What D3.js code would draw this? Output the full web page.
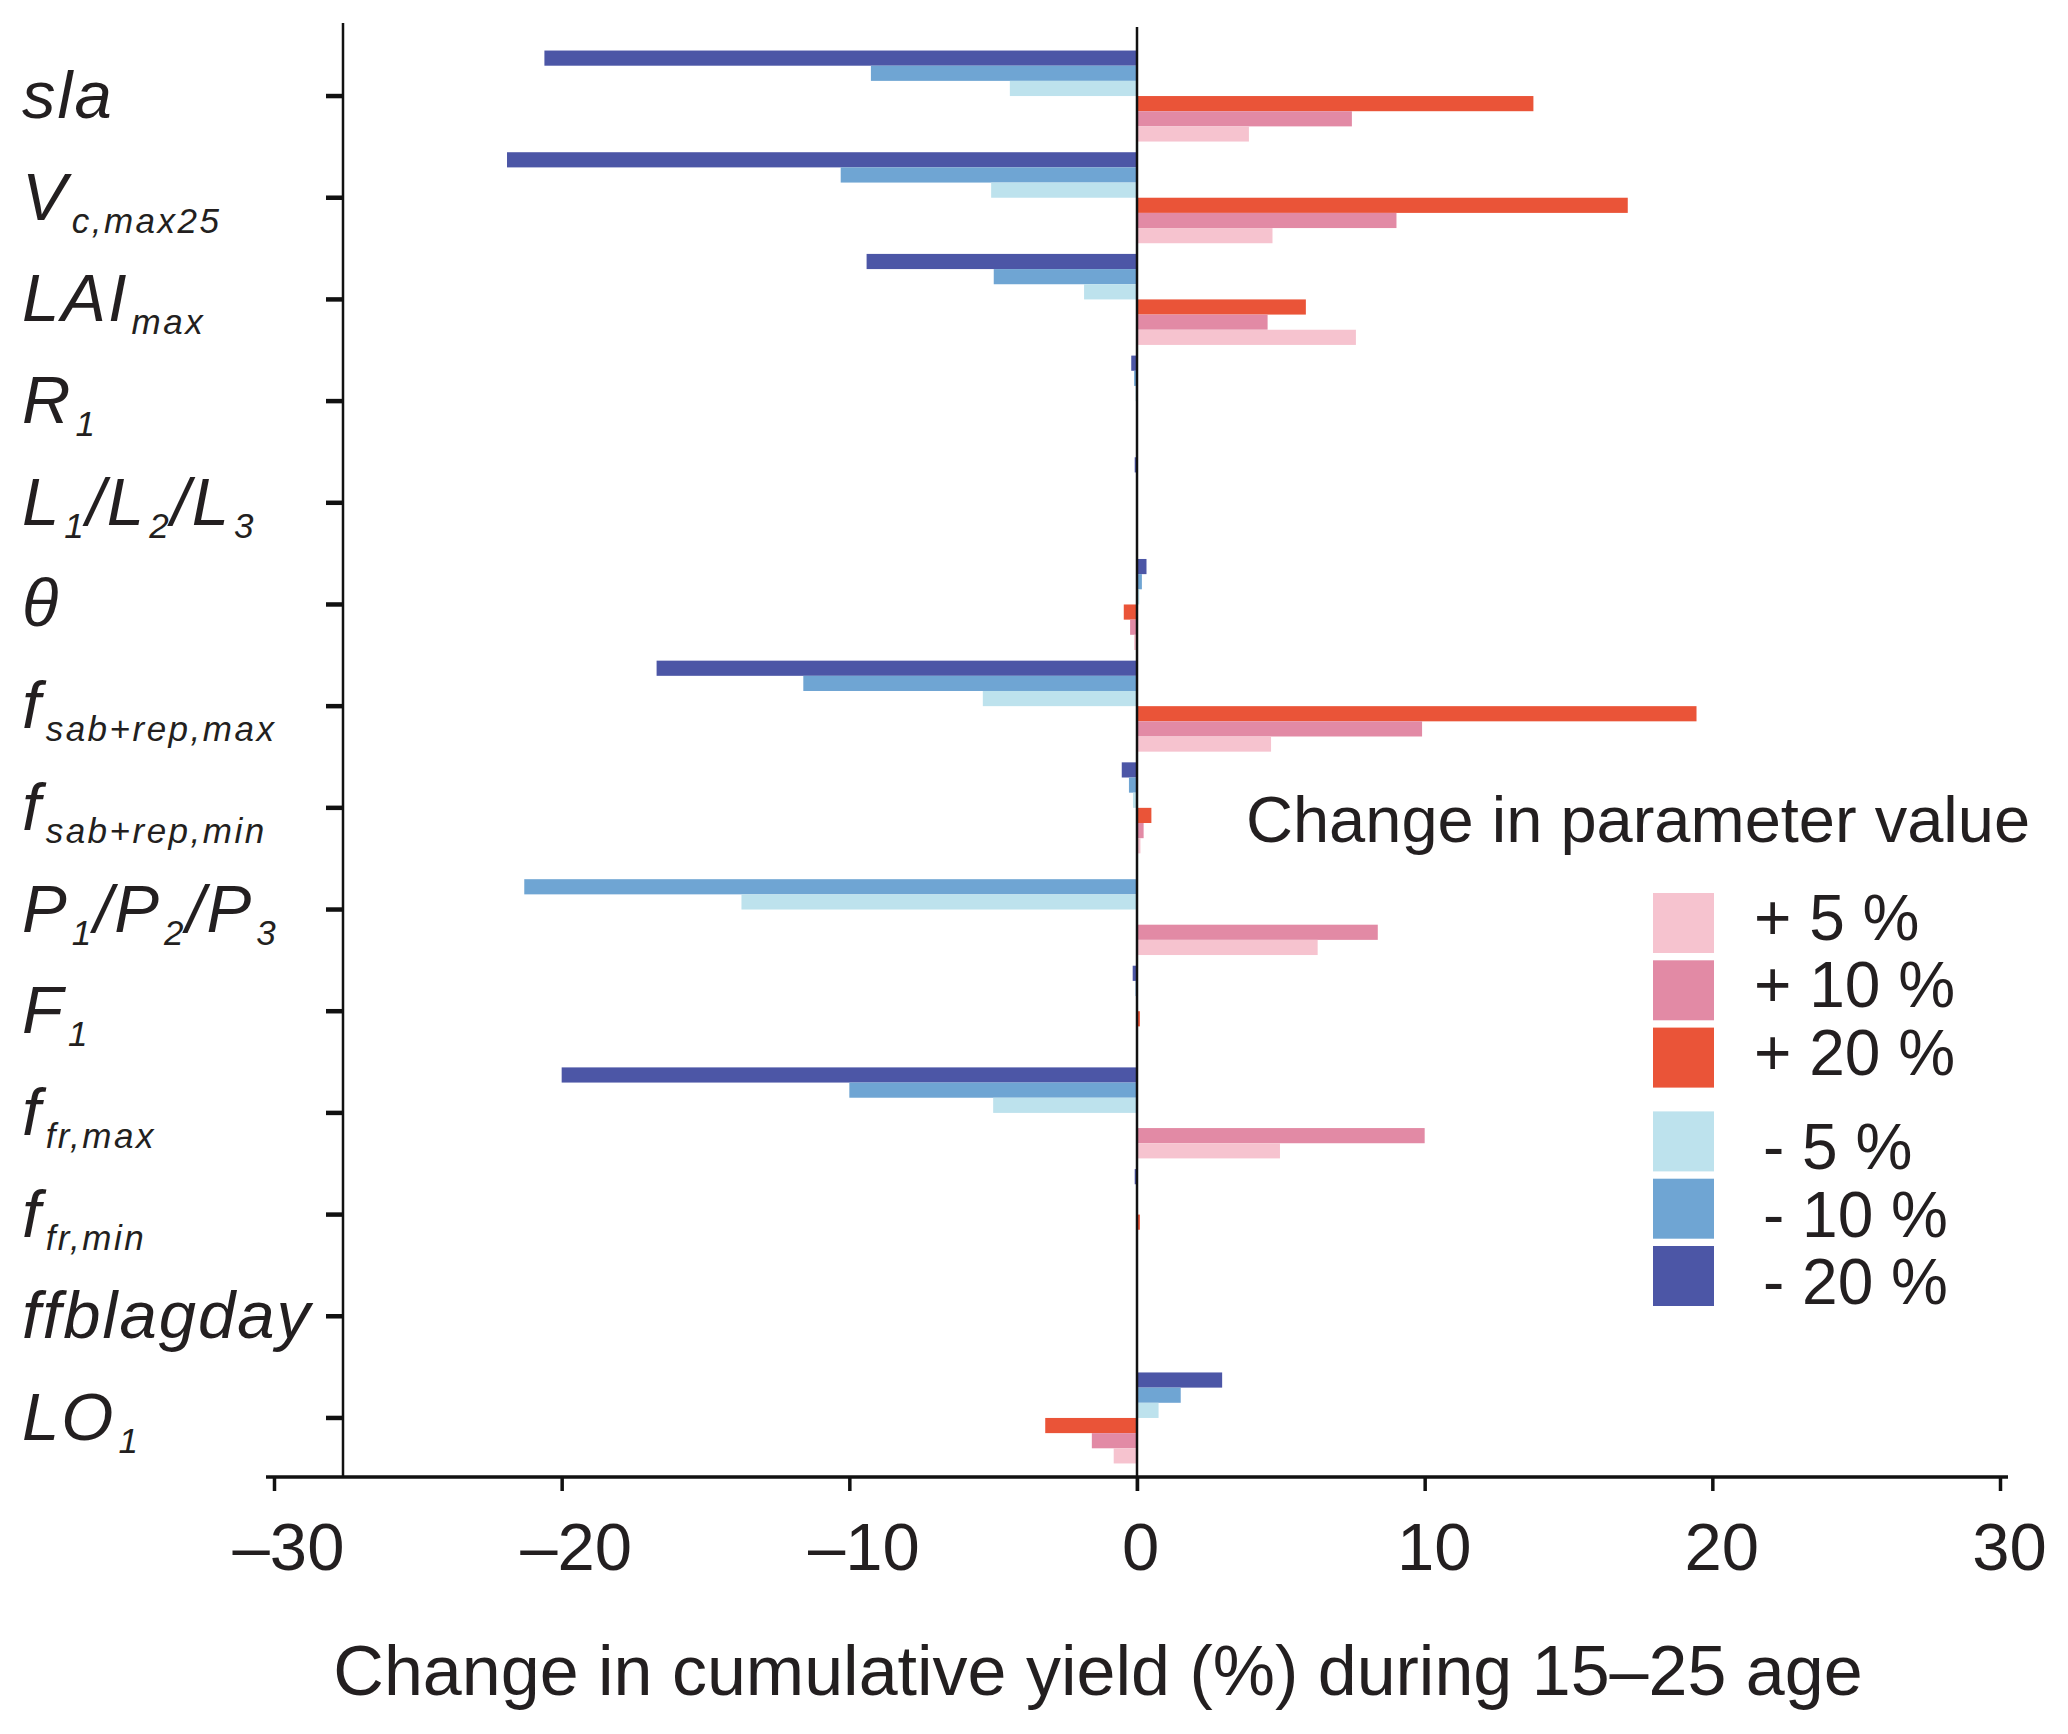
<!DOCTYPE html>
<html>
<head>
<meta charset="utf-8">
<script src="https://cdn.jsdelivr.net/npm/d3@7"></script>
<style>
    body { margin: 0; background: #fff; }
    text { font-family: "Liberation Sans", Arial, sans-serif; fill: #231f20; }
</style>
</head>
<body>
<div id="chart"></div>
<script>
// parameters, top to bottom
var categories = ['sla', 'Vc,max25', 'LAImax', 'R1', 'L1/L2/L3', 'theta',
    'fsab+rep,max', 'fsab+rep,min', 'P1/P2/P3', 'F1', 'ffr,max', 'ffr,min',
    'ffblagday', 'LO1'];

// label pieces: [text, isSubscript]
var categoryLabels = [
    [['sla', 0]],
    [['V', 0], ['c,max25', 1]],
    [['LAI', 0], ['max', 1]],
    [['R', 0], ['1', 1]],
    [['L', 0], ['1', 1], ['/L', 0], ['2', 1], ['/L', 0], ['3', 1]],
    [['\u03b8', 0]],
    [['f', 0], ['sab+rep,max', 1]],
    [['f', 0], ['sab+rep,min', 1]],
    [['P', 0], ['1', 1], ['/P', 0], ['2', 1], ['/P', 0], ['3', 1]],
    [['F', 0], ['1', 1]],
    [['f', 0], ['fr,max', 1]],
    [['f', 0], ['fr,min', 1]],
    [['ffblagday', 0]],
    [['LO', 0], ['1', 1]]
];

// change in cumulative yield (%) for each parameter change
var minus20 = [-20.6, -21.9, -9.4, -0.2, -0.08, 0.33, -16.7, -0.53, 0, -0.15, -20.0, -0.08, 0, 2.96];
var minus10 = [-9.25, -10.3, -4.98, -0.1, -0.03, 0.17, -11.6, -0.28, -21.3, -0.05, -10.0, -0.03, 0, 1.52];
var minus5 = [-4.42, -5.07, -1.84, -0.05, 0, 0.08, -5.36, -0.14, -13.75, 0, -5.0, 0, 0, 0.75];
var plus20 = [13.78, 17.06, 5.87, 0.03, 0, -0.46, 19.45, 0.5, 0, 0.1, 0, 0.1, 0, -3.19];
var plus10 = [7.47, 9.02, 4.54, 0.02, 0, -0.24, 9.91, 0.23, 8.37, 0.03, 10.0, 0.03, 0, -1.57];
var plus5 = [3.89, 4.71, 7.61, 0, 0, -0.1, 4.66, 0.12, 6.28, 0, 4.97, 0, 0, -0.81];

// order of the bars inside each group, top to bottom
var seriesKeys = ['m20', 'm10', 'm5', 'p20', 'p10', 'p5'];
var seriesValues = {m20: minus20, m10: minus10, m5: minus5, p20: plus20, p10: plus10, p5: plus5};

var legendKeys = ['p5', 'p10', 'p20', 'm5', 'm10', 'm20'];
var legendLabels = ['+ 5 %', '+ 10 %', '+ 20 %', '- 5 %', '- 10 %', '- 20 %'];

var xTicks = [-30, -20, -10, 0, 10, 20, 30];

(function () {
    'use strict';

    var width = 2068;
    var height = 1734;
    var axisY = 1477;
    var spineX = 343;

    var colors = {
        m20: '#4c56a6',
        m10: '#6fa5d3',
        m5: '#bde2ed',
        p20: '#ea5438',
        p10: '#e28aa5',
        p5: '#f6c3cf'
    };

    var svg = d3.select('#chart')
        .append('svg')
        .attr('width', width)
        .attr('height', height);

    var x = d3.scaleLinear()
        .domain([-30, 30])
        .range([274, 2000]);

    var y = d3.scaleBand()
        .domain(categories)
        .range([45.2, 1468.8])
        .paddingInner(0)
        .paddingOuter(0);

    var ySub = d3.scaleBand()
        .domain(seriesKeys)
        .range([0, y.bandwidth()])
        .paddingInner(0)
        .paddingOuter(0.352);

    // bars
    var groups = svg.append('g')
        .selectAll('g')
        .data(categories)
        .join('g')
        .attr('transform', function (c) { return translate(0, y(c)); });

    groups.selectAll('rect')
        .data(function (c, i) {
            return seriesKeys.map(function (k) {
                return {key: k, value: seriesValues[k][i]};
            });
        })
        .join('rect')
        .attr('x', function (d) { return x(Math.min(0, d.value)); })
        .attr('y', function (d) { return ySub(d.key); })
        .attr('width', function (d) { return Math.abs(x(d.value) - x(0)); })
        .attr('height', ySub.bandwidth())
        .attr('fill', function (d) { return colors[d.key]; });

    // zero line
    svg.append('line')
        .attr('x1', x(0))
        .attr('x2', x(0))
        .attr('y1', 27)
        .attr('y2', axisY + 14)
        .attr('stroke', '#111')
        .attr('stroke-width', 2.5);

    // x axis
    var xAxis = svg.append('g')
        .attr('transform', translate(0, axisY))
        .call(d3.axisBottom(x)
            .tickValues(xTicks)
            .tickSize(14)
            .tickSizeOuter(0)
            .tickFormat(function (d) { return d < 0 ? '\u2013' + (-d) : String(d); }));

    xAxis.select('.domain')
        .attr('d', 'M266,0H2008')
        .attr('stroke', '#111')
        .attr('stroke-width', 3.5);
    xAxis.selectAll('.tick line')
        .attr('stroke', '#111')
        .attr('stroke-width', 3.5);
    xAxis.selectAll('.tick text')
        .attr('y', 93)
        .attr('dy', 0)
        .attr('dx', function (d) { return d < 0 ? 14 : (d > 0 ? 9 : 3); })
        .style('font-size', '67px')
        .style('font-family', '"Liberation Sans", Arial, sans-serif')
        .attr('fill', '#231f20');

    svg.append('text')
        .attr('x', 1098)
        .attr('y', 1695)
        .attr('text-anchor', 'middle')
        .style('font-size', '70px')
        .text('Change in cumulative yield (%) during 15\u201325 age');

    // y axis
    var yAxis = svg.append('g')
        .attr('transform', translate(spineX, 0))
        .call(d3.axisLeft(y)
            .tickSize(17)
            .tickSizeOuter(0)
            .tickFormat(''));

    yAxis.select('.domain')
        .attr('d', 'M0,23V' + axisY)
        .attr('stroke', '#111')
        .attr('stroke-width', 2.5);
    yAxis.selectAll('.tick line')
        .attr('stroke', '#111')
        .attr('stroke-width', 4.5);

    var labels = svg.append('g')
        .selectAll('text')
        .data(categories)
        .join('text')
        .attr('x', 22)
        .attr('y', function (c) { return y(c) + y.bandwidth() / 2 + 22; })
        .style('font-size', '67px')
        .style('font-style', 'italic')
        .style('letter-spacing', '2px');

    labels.each(function (c, i) {
        var node = d3.select(this);
        var inSub = false;
        categoryLabels[i].forEach(function (part) {
            var t = node.append('tspan').text(part[0]);
            if (part[1]) {
                t.attr('dy', inSub ? 0 : 13)
                    .attr('dx', 3)
                    .style('font-size', '35px')
                    .style('letter-spacing', '2.5px');
                inSub = true;
            } else {
                t.attr('dy', inSub ? -13 : 0);
                inSub = false;
            }
        });
    });

    // legend
    svg.append('text')
        .attr('x', 1246)
        .attr('y', 842)
        .style('font-size', '65px')
        .text('Change in parameter value');

    var legendTops = legendKeys.map(function (k, i) {
        return 893 + i * 67.3 + (i >= 3 ? 16.5 : 0);
    });

    var legend = svg.append('g')
        .selectAll('g')
        .data(legendKeys)
        .join('g')
        .attr('transform', function (k, i) { return translate(1653, legendTops[i]); });

    legend.append('rect')
        .attr('width', 61)
        .attr('height', 60)
        .attr('fill', function (k) { return colors[k]; });

    legend.append('text')
        .attr('x', function (k, i) { return i < 3 ? 101 : 110; })
        .attr('y', function (k, i) { return i < 3 ? 47 : 58; })
        .style('font-size', '64px')
        .text(function (k, i) { return legendLabels[i]; });

    function translate(tx, ty) {
        return 'translate(' + tx + ',' + ty + ')';
    }

}());
</script>
</body>
</html>
